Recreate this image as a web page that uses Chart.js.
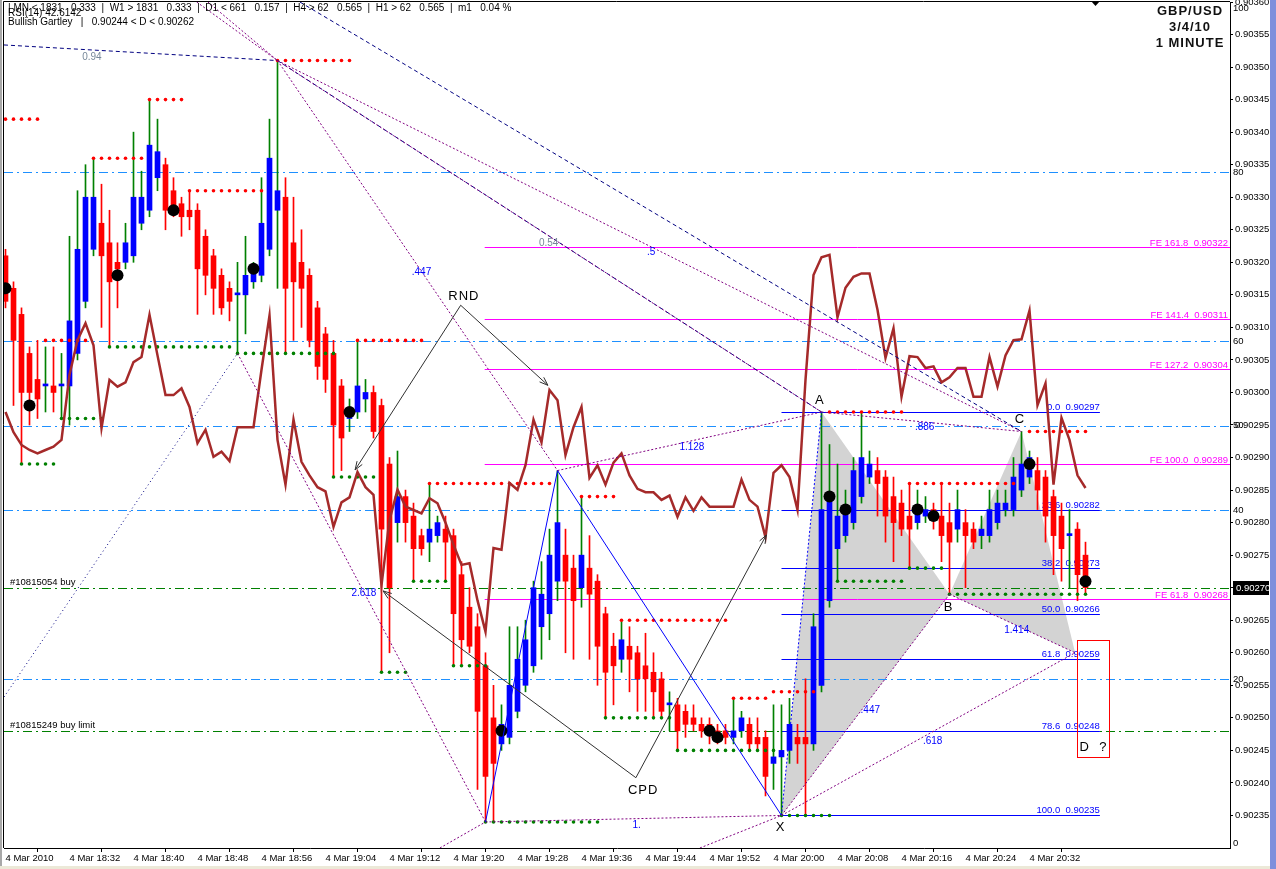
<!DOCTYPE html>
<html>
<head>
<meta charset="utf-8">
<title>GBP/USD 1 MINUTE</title>
<script src="https://cdn.jsdelivr.net/npm/chart.js@4.4.1/dist/chart.umd.min.js"></script>
<style>
html,body{margin:0;padding:0;background:#fff;overflow:hidden;}
#c{display:block;}
</style>
</head>
<body>
<canvas id="c" width="1276" height="869"></canvas>
<script>
// ================= DATA =================
const timeLabels = ['4 Mar 2010','4 Mar 18:32','4 Mar 18:40','4 Mar 18:48','4 Mar 18:56','4 Mar 19:04','4 Mar 19:12','4 Mar 19:20','4 Mar 19:28','4 Mar 19:36','4 Mar 19:44','4 Mar 19:52','4 Mar 20:00','4 Mar 20:08','4 Mar 20:16','4 Mar 20:24','4 Mar 20:32'];
const timeTickBars = [0,8,16,24,32,40,48,56,64,72,80,88,96,104,112,120,128];
const priceTicks = [0.90235,0.90240,0.90245,0.90250,0.90255,0.90260,0.90265,0.90270,0.90275,0.90280,0.90285,0.90290,0.90295,0.90300,0.90305,0.90310,0.90315,0.90320,0.90325,0.90330,0.90335,0.90340,0.90345,0.90350,0.90355,0.90360];
const rsiTicks = [100,80,60,50,40,20,0];
const rsiLevels = [80,60,50,40,20];

const opens = [
0.90321,0.90316,0.90312,0.90306,0.90302,0.90301,0.90301,0.90301,0.90301,0.90306,
0.90314,0.90322,0.90326,0.90323,0.90320,0.90320,0.90321,0.90326,0.90328,0.90333,
0.90335,0.90331,0.90329,0.90328,0.90328,0.90324,0.90321,0.90318,0.90316,0.90315,
0.90315,0.90317,0.90318,0.90322,0.90328,0.90330,0.90323,0.90320,0.90318,0.90313,
0.90309,0.90306,0.90301,0.90296,0.90297,0.90299,0.90300,0.90298,0.90289,0.90280,
0.90284,0.90281,0.90278,0.90277,0.90278,0.90279,0.90278,0.90272,0.90267,0.90264,
0.90258,0.90250,0.90246,0.90247,0.90251,0.90255,0.90258,0.90264,0.90266,0.90271,
0.90275,0.90273,0.90270,0.90273,0.90271,0.90266,0.90261,0.90259,0.90261,0.90260,
0.90258,0.90257,0.90256,0.90252,0.90252,0.90251,0.90250,0.90249,0.90249,0.90248,
0.90248,0.90247,0.90248,0.90249,0.90247,0.90247,0.90243,0.90244,0.90245,0.90247,
0.90247,0.90246,0.90255,0.90268,0.90276,0.90278,0.90280,0.90284,0.90287,0.90288,
0.90287,0.90284,0.90283,0.90281,0.90280,0.90281,0.90282,0.90281,0.90280,0.90279,
0.90280,0.90279,0.90278,0.90278,0.90280,0.90282,0.90282,0.90285,0.90287,0.90288,
0.90287,0.90284,0.90281,0.90278,0.90279,0.90275];
const highs = [
0.90322,0.90317,0.90313,0.90307,0.90308,0.90307,0.90307,0.90306,0.90324,0.90331,
0.90335,0.90336,0.90332,0.90328,0.90323,0.90326,0.90340,0.90334,0.90345,0.90342,
0.90336,0.90333,0.90330,0.90331,0.90329,0.90325,0.90322,0.90319,0.90317,0.90320,
0.90324,0.90320,0.90333,0.90342,0.90351,0.90333,0.90330,0.90325,0.90319,0.90314,
0.90310,0.90308,0.90302,0.90299,0.90308,0.90302,0.90301,0.90299,0.90290,0.90291,
0.90285,0.90283,0.90279,0.90286,0.90281,0.90281,0.90279,0.90274,0.90270,0.90266,
0.90260,0.90255,0.90252,0.90264,0.90264,0.90265,0.90271,0.90274,0.90279,0.90288,
0.90279,0.90275,0.90284,0.90278,0.90272,0.90267,0.90263,0.90265,0.90264,0.90261,
0.90263,0.90260,0.90257,0.90254,0.90253,0.90252,0.90252,0.90250,0.90250,0.90249,
0.90249,0.90253,0.90251,0.90250,0.90250,0.90248,0.90252,0.90252,0.90253,0.90249,
0.90256,0.90266,0.90297,0.90292,0.90289,0.90285,0.90290,0.90297,0.90291,0.90290,
0.90288,0.90287,0.90285,0.90286,0.90285,0.90284,0.90283,0.90286,0.90283,0.90285,
0.90282,0.90280,0.90281,0.90285,0.90285,0.90285,0.90290,0.90294,0.90291,0.90290,
0.90288,0.90285,0.90283,0.90282,0.90280,0.90277];
const lows = [
0.90313,0.90298,0.90289,0.90295,0.90296,0.90297,0.90297,0.90296,0.90295,0.90305,
0.90313,0.90321,0.90310,0.90307,0.90313,0.90319,0.90320,0.90325,0.90327,0.90331,
0.90325,0.90327,0.90324,0.90325,0.90312,0.90315,0.90312,0.90312,0.90311,0.90306,
0.90309,0.90316,0.90317,0.90321,0.90316,0.90306,0.90308,0.90310,0.90307,0.90302,
0.90300,0.90287,0.90288,0.90294,0.90296,0.90297,0.90293,0.90257,0.90260,0.90277,
0.90277,0.90271,0.90275,0.90274,0.90277,0.90271,0.90258,0.90258,0.90260,0.90239,
0.90234,0.90234,0.90245,0.90246,0.90250,0.90254,0.90257,0.90259,0.90262,0.90268,
0.90260,0.90259,0.90267,0.90259,0.90255,0.90250,0.90252,0.90257,0.90254,0.90251,
0.90251,0.90250,0.90250,0.90248,0.90245,0.90247,0.90248,0.90247,0.90246,0.90246,
0.90246,0.90246,0.90247,0.90245,0.90245,0.90238,0.90239,0.90235,0.90243,0.90243,
0.90235,0.90245,0.90254,0.90267,0.90271,0.90277,0.90279,0.90283,0.90286,0.90281,
0.90277,0.90274,0.90278,0.90273,0.90279,0.90280,0.90279,0.90274,0.90269,0.90277,
0.90270,0.90276,0.90276,0.90277,0.90279,0.90281,0.90281,0.90284,0.90286,0.90282,
0.90277,0.90272,0.90271,0.90270,0.90268,0.90269];
const closes = [
0.90314,0.90308,0.90300,0.90300,0.90299,0.90301,0.90300,0.90301,0.90311,0.90322,
0.90330,0.90330,0.90321,0.90317,0.90319,0.90323,0.90330,0.90330,0.90338,0.90337,
0.90328,0.90328,0.90327,0.90327,0.90319,0.90318,0.90316,0.90313,0.90314,0.90315,
0.90318,0.90319,0.90326,0.90336,0.90331,0.90316,0.90317,0.90316,0.90308,0.90304,
0.90302,0.90295,0.90293,0.90297,0.90301,0.90300,0.90294,0.90279,0.90270,0.90284,
0.90280,0.90276,0.90276,0.90279,0.90280,0.90277,0.90266,0.90262,0.90261,0.90251,
0.90241,0.90243,0.90249,0.90255,0.90259,0.90262,0.90270,0.90269,0.90275,0.90280,
0.90271,0.90268,0.90275,0.90269,0.90261,0.90257,0.90258,0.90262,0.90259,0.90256,
0.90256,0.90254,0.90251,0.90252,0.90248,0.90249,0.90249,0.90248,0.90248,0.90247,
0.90247,0.90248,0.90250,0.90246,0.90246,0.90241,0.90244,0.90245,0.90249,0.90246,
0.90246,0.90264,0.90282,0.90284,0.90281,0.90282,0.90288,0.90290,0.90289,0.90286,
0.90281,0.90280,0.90279,0.90279,0.90282,0.90282,0.90281,0.90278,0.90277,0.90282,
0.90278,0.90277,0.90279,0.90282,0.90283,0.90283,0.90287,0.90289,0.90290,0.90285,
0.90281,0.90278,0.90276,0.90278,0.90272,0.90270];
const rsi = [
51.6,49.2,47.7,47.1,46.7,47.1,47.5,48.3,56.0,60.1,
62.1,59.5,49.7,55.4,54.6,55.1,57.5,58.1,63.1,58.3,
53.6,53.6,54.4,52.2,47.9,49.5,46.3,46.9,45.8,49.8,
49.8,49.8,56.6,63.0,48.3,43.0,50.7,45.7,44.1,42.7,
42.2,38.0,40.9,41.5,44.5,42.7,41.8,31.1,38.8,42.4,
40.4,40.0,39.6,41.4,40.8,38.5,35.9,33.5,33.7,29.3,
25.6,35.5,35.3,43.2,42.4,45.3,50.7,48.0,54.2,53.0,
46.5,49.8,52.2,43.8,45.3,43.0,45.6,46.7,44.1,42.5,
42.1,42.1,41.2,41.7,39.2,41.5,39.9,41.5,40.4,40.4,
40.4,40.4,43.6,41.2,40.4,36.8,44.4,45.3,43.9,40.0,
55.4,67.8,69.9,70.2,62.8,66.3,67.6,68.0,68.0,63.7,
58.0,61.5,53.4,58.2,58.1,56.8,57.0,55.1,55.7,56.8,
56.8,53.4,53.4,58.1,54.6,58.3,60.1,60.2,63.6,52.4,
55.0,43.0,50.9,48.3,44.1,42.6];

// support / resistance dot runs: [first bar, last bar, price]
const resSegments = [[0,4,0.90342],[5,10,0.90308],[11,17,0.90336],[18,22,0.90345],[23,32,0.90331],[34,43,0.90351],[44,52,0.90308],[53,68,0.90286],[72,76,0.90284],[77,90,0.90265],[91,95,0.90253],[96,101,0.90254],[103,112,0.90297],[113,126,0.90286],[128,135,0.90294]];
const supSegments = [[2,6,0.90289],[7,12,0.90296],[13,28,0.90307],[29,41,0.90306],[41,46,0.90287],[47,50,0.90257],[51,55,0.90271],[56,60,0.90258],[60,74,0.90234],[75,83,0.90250],[84,96,0.90245],[97,103,0.90235],[104,112,0.90271],[113,117,0.90273],[118,135,0.90269]];
// black fractal dots
const blackDotK = [0,3,14,21,31,43,62,88,89,103,105,114,116,128,135];
const blackDotP = [0.90316,0.90298,0.90318,0.90328,0.90319,0.90297,0.90248,0.90248,0.90247,0.90284,0.90282,0.90282,0.90281,0.90289,0.90271];

// Gartley points X A B C D
const patternNames = ['X','A','B','C','D'];
const patternK = [97,102,118,127,133.7];
const patternP = [0.90235,0.90297,0.90269,0.90294,0.90260];
const dZoneK = [133.9,137.9];
const dZoneP = [0.90244,0.90262];

// Fibonacci retracement X-A
const fibLevels = [0.0,23.6,38.2,50.0,61.8,78.6,100.0];
const fibPrices = [0.90297,0.90282,0.90273,0.90266,0.90259,0.90248,0.90235];
const fibRangeK = [97,136.8];
// Fibonacci expansion
const feLevels = [161.8,141.4,127.2,100.0,61.8];
const fePrices = [0.903223,0.903113,0.903036,0.902890,0.902683];
const feStartK = 59.9;
// order lines
const orderLabels = ['#10815054 buy','#10815249 buy limit'];
const orderPrices = [0.90270,0.90248];
const currentPrice = 0.90270;

// ratio lines [k1,p1,k2,p2] and their styles
const ratioLines = [
 [-0.19,0.903534,34,0.90351],[23.9,0.90360,34,0.90351],[25.3,0.90360,34,0.90351],
 [34,0.90351,102,0.90297],[34.6,0.903505,102,0.90297],[34,0.90351,127,0.90294],
 [36.8,0.90360,127,0.90294],[34,0.90351,69,0.90288],[-0.19,0.902532,29,0.90306],
 [29,0.90306,60,0.90234],[60,0.90234,97,0.90235],[54.3,0.90230,60,0.90234],
 [86.8,0.90230,97,0.90235],[60,0.90234,69,0.90288],[69,0.90288,97,0.90235],
 [69,0.90288,102,0.90297],[97,0.90235,102,0.90297],[97,0.90235,118,0.90269],
 [102,0.90297,127,0.90294],[118,0.90269,133.7,0.90260],[97,0.90235,133.7,0.90260]];
const ratioStyles = ['nd','pd','pd','nd','pd','pd','nd','pd','nt','pd','pd','pd','pd','bs','bs','pd','bt','pd','pd','pd','pd'];
const ratioLabels = [['.447',52,0.903185],['.5',80.7,0.903216],['1.128',85.8,0.902916],['.886',114.9,0.902947],['1.414',126.4,0.902635],['.447',108.1,0.902511],['.618',115.9,0.902464],['2.618',44.8,0.902692],['1.',78.9,0.902335]];
const grayLabels = [['0.94',10.8,0.903515],['0.54',67.9,0.903230]];
const letterLabels = [['A',101.8,0.902987],['B',117.9,0.90267],['C',126.8,0.902958],['X',96.9,0.902331],['RND',57.3,0.903147],['CPD',79.7,0.902389],['D  ?',136,0.902454]];
const arrowLines = [[56.9,0.903134,43.7,0.902881],[56.9,0.903134,67.8,0.903011],[78.8,0.902408,47.2,0.902695],[78.8,0.902408,95.1,0.902781]];

const infoLine = '| MN < 1831   0.333  |  W1 > 1831   0.333  |  D1 < 661   0.157  |  H4 > 62   0.565  |  H1 > 62   0.565  |  m1   0.04 %';
const rsiCaption = 'RSI(14) 42.6142';
const patternCaption = 'Bullish Gartley   |   0.90244 < D < 0.90262';
const titleLines = ['GBP/USD','3/4/10','1 MINUTE'];

// ================= BUILD =================
const FONT = '"Liberation Sans", Arial, sans-serif';
const bars = opens.map((o,i)=>i);
const wickData = bars.map(i=>({x:i,y:[lows[i],highs[i]]}));
const bodyData = bars.map(i=>({x:i,y:[opens[i],closes[i]]}));
const bodyColors = bars.map(i=>closes[i]<opens[i]?'#FF0000':'#0000FF');
const wickColors = bars.map(i=>closes[i]<opens[i]?'#FF0000':'#008000');
const rsiData = bars.map(i=>({x:i,y:rsi[i]}));
function runs(segs){const out=[];segs.forEach(s=>{for(let k=s[0];k<=s[1];k++)out.push({x:k,y:s[2]});});return out;}
const resDots = runs(resSegments);
const supDots = runs(supSegments);
const blackDots = blackDotK.map((k,i)=>({x:k,y:blackDotP[i]}));

function hline(ctx,x1,x2,y,color,dash){
  ctx.save();ctx.strokeStyle=color;ctx.lineWidth=1;ctx.setLineDash(dash||[]);
  const yy=Math.round(y)+0.5;ctx.beginPath();ctx.moveTo(x1,yy);ctx.lineTo(x2,yy);ctx.stroke();ctx.restore();
}
function seg(ctx,x1,y1,x2,y2,color,dash,w){
  ctx.save();ctx.strokeStyle=color;ctx.lineWidth=w||1;ctx.setLineDash(dash||[]);
  ctx.beginPath();ctx.moveTo(x1,y1);ctx.lineTo(x2,y2);ctx.stroke();ctx.restore();
}
const STY = {pd:['#800080',[2,2]],nd:['#000080',[4,3]],nt:['#000080',[1,3]],bs:['#0000FF',[]],bt:['#0000FF',[2,2]]};

const mt4 = {
  id:'mt4',
  beforeDatasetsDraw(chart){
    const {ctx,chartArea:a,scales:s}=chart;
    const X=v=>s.x.getPixelForValue(v),Y=v=>s.y.getPixelForValue(v),R=v=>s.rsi.getPixelForValue(v);
    ctx.save();
    ctx.beginPath();ctx.rect(a.left,a.top,a.right-a.left,a.bottom-a.top);ctx.clip();
    ctx.fillStyle='#D3D3D3';
    [[0,1,2],[2,3,4]].forEach(t=>{ctx.beginPath();t.forEach((i,j)=>{const px=X(patternK[i]),py=Y(patternP[i]);if(j)ctx.lineTo(px,py);else ctx.moveTo(px,py);});ctx.closePath();ctx.fill();});
    rsiLevels.forEach(v=>hline(ctx,a.left,a.right,R(v),'#1E90FF',[9,4,2,4]));
    ctx.font='9.5px '+FONT;ctx.textBaseline='alphabetic';
    orderPrices.forEach((p,i)=>{const y=Y(p);hline(ctx,a.left,a.right,y,'#008000',[9,4,2,4]);ctx.fillStyle='#000';ctx.textAlign='left';ctx.fillText(orderLabels[i],a.left+6,Math.round(y)-3);});
    fePrices.forEach((p,i)=>{const y=Y(p);hline(ctx,X(feStartK),a.right,y,'#FF00FF');ctx.fillStyle='#FF00FF';ctx.textAlign='right';ctx.fillText('FE '+feLevels[i].toFixed(1)+'  '+p.toFixed(5),a.right-2,Math.round(y)-1);});
    fibPrices.forEach((p,i)=>{const y=Y(p);hline(ctx,X(fibRangeK[0]),X(fibRangeK[1]),y,'#0000FF');ctx.fillStyle='#0000FF';ctx.textAlign='right';ctx.fillText(fibLevels[i].toFixed(1)+'  '+p.toFixed(5),X(fibRangeK[1]),Math.round(y)-2);});
    ctx.restore();
  },
  afterDatasetsDraw(chart){
    const {ctx,chartArea:a,scales:s}=chart;
    const X=v=>s.x.getPixelForValue(v),Y=v=>s.y.getPixelForValue(v);
    ctx.save();
    ctx.beginPath();ctx.rect(a.left,a.top,a.right-a.left,a.bottom-a.top);ctx.clip();
    ratioLines.forEach((l,i)=>{const st=STY[ratioStyles[i]];seg(ctx,X(l[0]),Y(l[1]),X(l[2]),Y(l[3]),st[0],st[1],1);});
    arrowLines.forEach(l=>{
      const x1=X(l[0]),y1=Y(l[1]),x2=X(l[2]),y2=Y(l[3]);
      seg(ctx,x1,y1,x2,y2,'#303030',[],1);
      const ang=Math.atan2(y2-y1,x2-x1),L=9;
      [0.35,-0.35].forEach(d=>seg(ctx,x2,y2,x2-L*Math.cos(ang+d),y2-L*Math.sin(ang+d),'#303030',[],1));
    });
    // D zone box
    ctx.strokeStyle='#FF0000';ctx.lineWidth=1;ctx.setLineDash([]);
    const bx1=Math.round(X(dZoneK[0]))+0.5,bx2=Math.round(X(dZoneK[1]))+0.5,by1=Math.round(Y(dZoneP[1]))+0.5,by2=Math.round(Y(dZoneP[0]))+0.5;
    ctx.strokeRect(bx1,by1,bx2-bx1,by2-by1);
    ctx.textAlign='center';ctx.textBaseline='middle';
    ctx.font='10px '+FONT;
    ctx.fillStyle='#0000FF';ratioLabels.forEach(t=>ctx.fillText(t[0],X(t[1]),Y(t[2])));
    ctx.fillStyle='#778899';grayLabels.forEach(t=>ctx.fillText(t[0],X(t[1]),Y(t[2])));
    ctx.font='13px '+FONT;ctx.fillStyle='#000';
    try{ctx.letterSpacing='1px';}catch(e){}
    letterLabels.forEach(t=>ctx.fillText(t[0],X(t[1]),Y(t[2])));
    try{ctx.letterSpacing='0px';}catch(e){}
    ctx.restore();
  },
  afterDraw(chart){
    const {ctx,chartArea:a,scales:s}=chart;
    const Y=v=>s.y.getPixelForValue(v),R=v=>s.rsi.getPixelForValue(v);
    ctx.save();
    // frame
    ctx.strokeStyle='#000';ctx.lineWidth=1;
    ctx.beginPath();ctx.moveTo(a.left-0.5,a.bottom);ctx.lineTo(a.left-0.5,a.top-0.5);ctx.lineTo(a.right,a.top-0.5);ctx.stroke();
    ctx.fillStyle='#A8A8A8';ctx.fillRect(0,0,2,869);
    ctx.fillStyle='#7F8FDC';ctx.fillRect(1270,0,6,869);
    ctx.fillStyle='#ECE9D8';ctx.fillRect(0,866,1270,3);
    // shift marker
    ctx.fillStyle='#000';ctx.beginPath();ctx.moveTo(1091,1);ctx.lineTo(1100,1);ctx.lineTo(1095.5,6);ctx.closePath();ctx.fill();
    // RSI scale labels
    ctx.font='9.5px '+FONT;ctx.textAlign='left';ctx.textBaseline='middle';ctx.fillStyle='#000';
    rsiTicks.forEach(v=>{const y=Math.min(843,Math.max(8,R(v)));ctx.fillText(String(v),a.right+3,y);});
    // current price box
    const cy=Math.round(Y(currentPrice));
    ctx.fillStyle='#000';ctx.fillRect(a.right+3,cy-7,36,14);
    ctx.fillStyle='#fff';ctx.fillText(currentPrice.toFixed(5),a.right+6,cy+0.5);
    // info texts
    ctx.fillStyle='#000';ctx.font='10px '+FONT;
    ctx.fillText(infoLine,8,8);
    ctx.fillText(rsiCaption,8,13);
    ctx.fillText(patternCaption,8,22);
    // title
    ctx.font='bold 13px '+FONT;ctx.textAlign='center';ctx.fillStyle='#111';
    try{ctx.letterSpacing='1px';}catch(e){}
    titleLines.forEach((t,i)=>ctx.fillText(t,1190,11+i*16));
    ctx.restore();
  }
};

function noPad(sc){sc.paddingTop=0;sc.paddingBottom=0;sc.paddingLeft=0;sc.paddingRight=0;}

new Chart(document.getElementById('c'),{
  type:'bar',
  data:{datasets:[
    {type:'line',data:blackDots,yAxisID:'y',showLine:false,pointRadius:6,pointBackgroundColor:'#000',pointBorderWidth:0,order:1},
    {type:'line',data:rsiData,yAxisID:'rsi',borderColor:'#A52A2A',borderWidth:2.5,pointRadius:0,tension:0,fill:false,order:2},
    {type:'line',data:resDots,yAxisID:'y',showLine:false,pointRadius:1.8,pointBackgroundColor:'#FF0000',pointBorderWidth:0,order:3},
    {type:'line',data:supDots,yAxisID:'y',showLine:false,pointRadius:1.8,pointBackgroundColor:'#008000',pointBorderWidth:0,order:3},
    {type:'bar',data:bodyData,yAxisID:'y',backgroundColor:bodyColors,borderWidth:0,barThickness:5,grouped:false,minBarLength:2,order:4},
    {type:'bar',data:wickData,yAxisID:'y',backgroundColor:wickColors,borderWidth:0,barThickness:1,grouped:false,order:5}
  ]},
  options:{
    responsive:false,animation:false,devicePixelRatio:1,events:[],
    layout:{padding:{left:4,top:2,right:0,bottom:0},autoPadding:false},
    plugins:{legend:{display:false},tooltip:{enabled:false}},
    scales:{
      x:{type:'linear',min:-0.1875,max:153.0625,offset:false,
        grid:{drawOnChartArea:false,color:'#000',tickLength:4},
        border:{display:true,color:'#000'},
        afterBuildTicks:sc=>{sc.ticks=timeTickBars.map(v=>({value:v}));},
        afterFit:sc=>{sc.height=21;noPad(sc);},
        ticks:{autoSkip:false,maxRotation:0,minRotation:0,align:'start',padding:1,color:'#000',font:{family:FONT,size:9.5},
          callback:(v,i)=>timeLabels[i]}},
      y:{type:'linear',position:'right',min:0.90230,max:0.90360,
        grid:{drawOnChartArea:false,color:'#000',tickLength:3},
        border:{display:true,color:'#000'},
        afterBuildTicks:sc=>{sc.ticks=priceTicks.map(v=>({value:v}));},
        afterFit:sc=>{sc.width=46;noPad(sc);},
        ticks:{autoSkip:false,padding:2,color:'#000',font:{family:FONT,size:9.5},callback:v=>Number(v).toFixed(5)}},
      rsi:{type:'linear',display:false,position:'right',min:0,max:100.12,afterFit:noPad}
    }
  },
  plugins:[mt4]
});
</script>
</body>
</html>
